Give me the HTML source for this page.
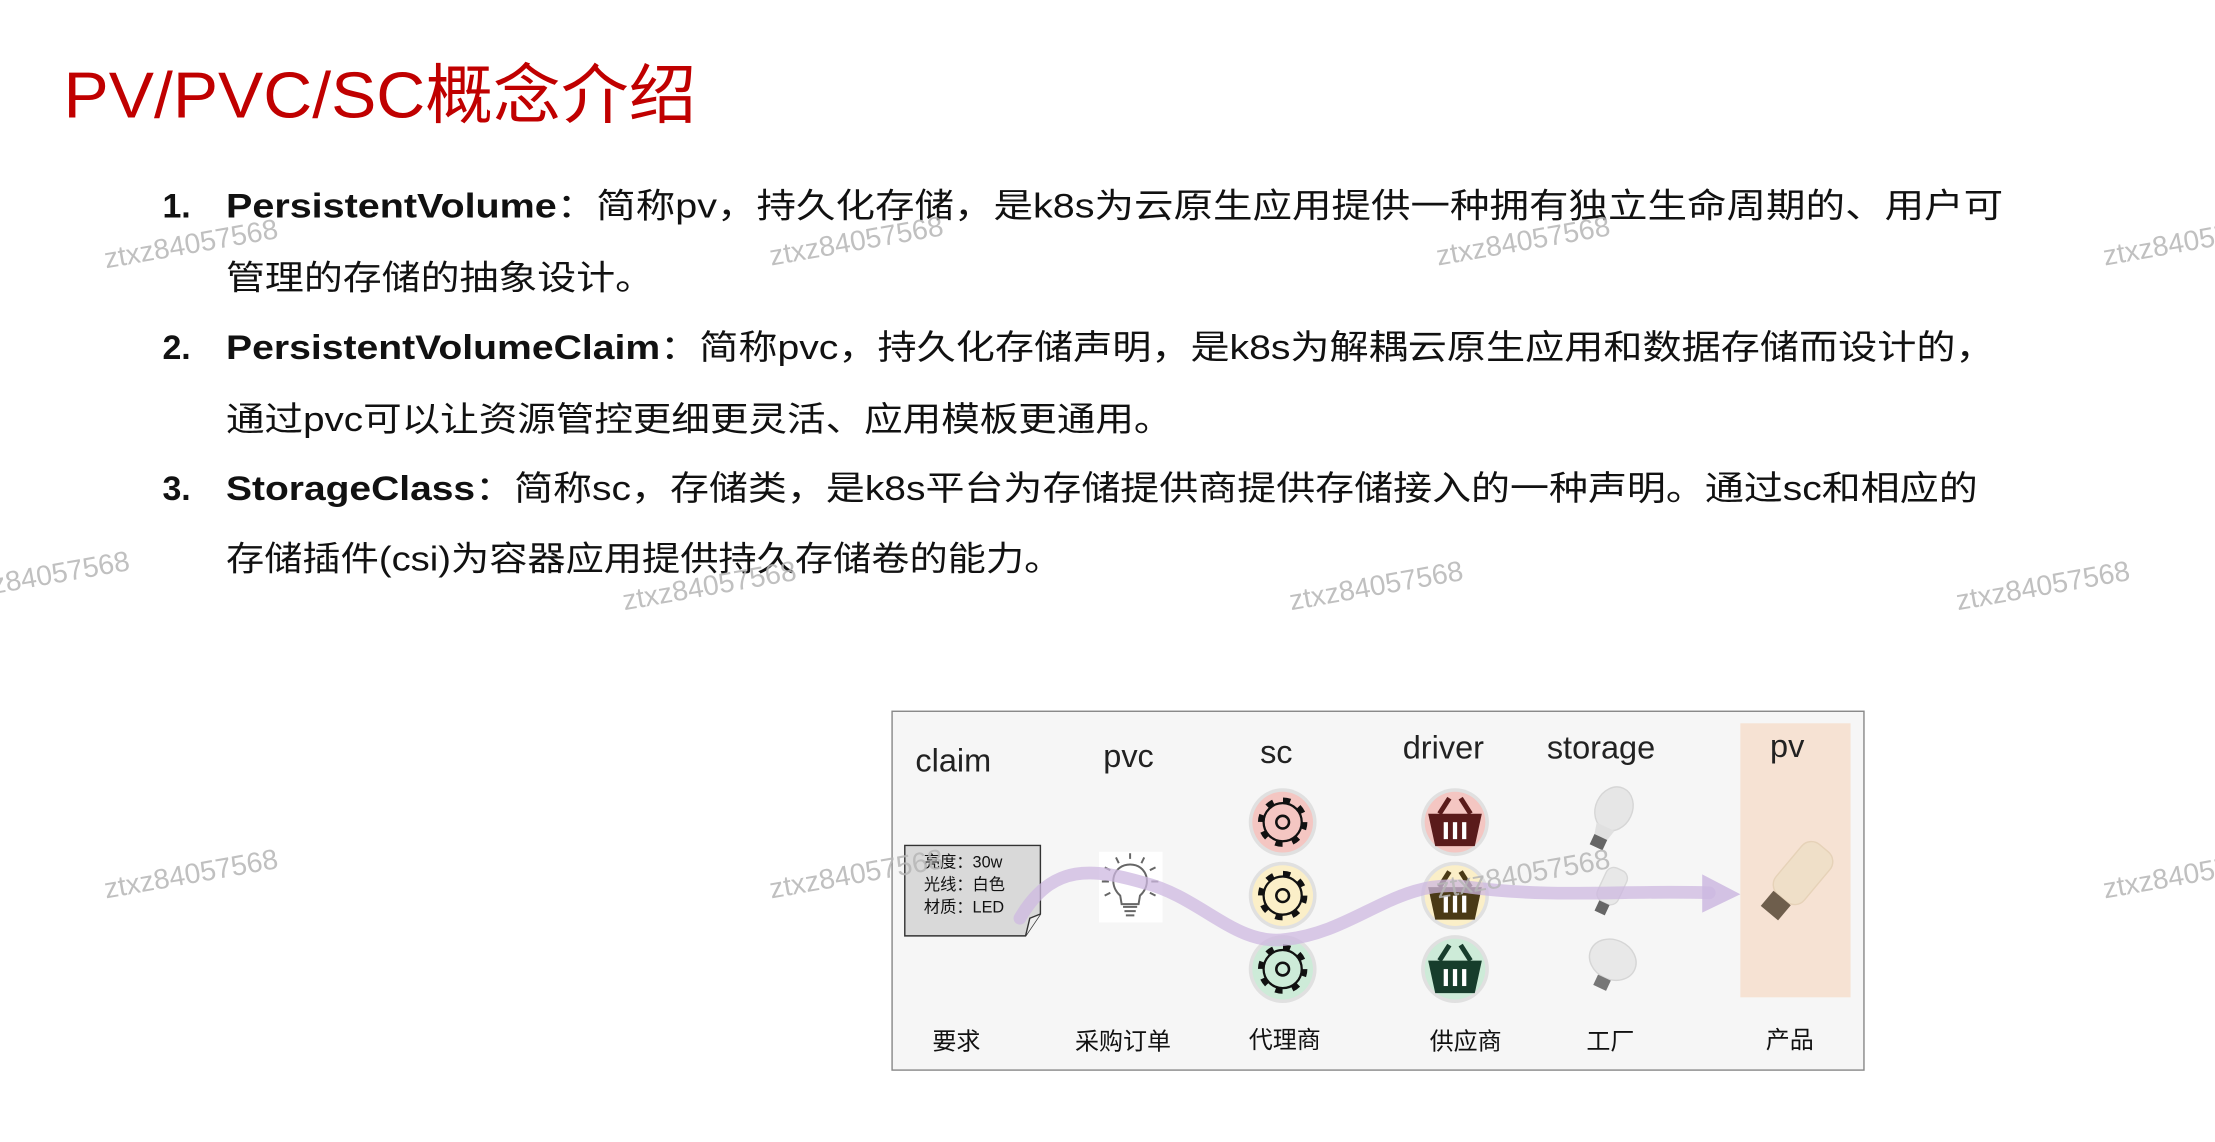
<!DOCTYPE html>
<html><head><meta charset="utf-8"><style>
html,body{margin:0;padding:0;background:#fff;}
svg{display:block;}
</style></head><body>
<svg width="2215" height="1142" viewBox="0 0 1568 808.4" xmlns="http://www.w3.org/2000/svg" font-family="'Liberation Sans','Noto Sans CJK SC',sans-serif">
<defs>
<g id="gear">
 <circle r="15" fill="none" stroke="#111" stroke-width="5" stroke-dasharray="5 6.8"/>
 <circle r="13.5" fill="currentColor"/>
 <circle r="13.5" fill="none" stroke="#111" stroke-width="1.6"/>
 <circle r="4.5" fill="none" stroke="#111" stroke-width="1.8"/>
</g>
<g id="basket">
 <path d="M-11,-6 L-4,-17 M11,-6 L4,-17" stroke="currentColor" stroke-width="3.5" fill="none"/>
 <path d="M-19,-6 H19 L14,17 H-14 Z" fill="currentColor"/>
 <rect x="-8" y="0" width="3" height="12" fill="#fff"/>
 <rect x="-1.5" y="0" width="3" height="12" fill="#fff"/>
 <rect x="5" y="0" width="3" height="12" fill="#fff"/>
</g>
</defs>

<!-- title -->
<text x="45" y="83" font-size="46" fill="#c00000" textLength="448" lengthAdjust="spacingAndGlyphs">PV/PVC/SC概念介绍</text>

<!-- list -->
<g font-size="24" fill="#111">
<text x="115" y="154" font-weight="bold">1.</text>
<text x="160" y="154" textLength="1258" lengthAdjust="spacingAndGlyphs"><tspan font-weight="bold">PersistentVolume</tspan>：简称pv，持久化存储，是k8s为云原生应用提供一种拥有独立生命周期的、用户可</text>
<text x="160" y="205" textLength="303" lengthAdjust="spacingAndGlyphs">管理的存储的抽象设计。</text>
<text x="115" y="254" font-weight="bold">2.</text>
<text x="160" y="254" textLength="1252" lengthAdjust="spacingAndGlyphs"><tspan font-weight="bold">PersistentVolumeClaim</tspan>：简称pvc，持久化存储声明，是k8s为解耦云原生应用和数据存储而设计的，</text>
<text x="160" y="305" textLength="670" lengthAdjust="spacingAndGlyphs">通过pvc可以让资源管控更细更灵活、应用模板更通用。</text>
<text x="115" y="354" font-weight="bold">3.</text>
<text x="160" y="354" textLength="1240" lengthAdjust="spacingAndGlyphs"><tspan font-weight="bold">StorageClass</tspan>：简称sc，存储类，是k8s平台为存储提供商提供存储接入的一种声明。通过sc和相应的</text>
<text x="160" y="404" textLength="592" lengthAdjust="spacingAndGlyphs">存储插件(csi)为容器应用提供持久存储卷的能力。</text>
</g>

<!-- diagram -->
<rect x="631.5" y="503.5" width="688" height="254" fill="#f6f6f6" stroke="#888" stroke-width="1"/>
<rect x="1232" y="512" width="78" height="194" fill="#f6e2d3"/>
<g font-size="23" fill="#222">
<text x="648" y="546">claim</text>
<text x="781" y="543">pvc</text>
<text x="892" y="540">sc</text>
<text x="993" y="537">driver</text>
<text x="1095" y="537">storage</text>
<text x="1253" y="536">pv</text>
</g>
<g font-size="17" fill="#111">
<text x="660" y="743">要求</text>
<text x="761" y="743">采购订单</text>
<text x="884" y="742">代理商</text>
<text x="1012" y="743">供应商</text>
<text x="1123" y="743">工厂</text>
<text x="1250" y="742">产品</text>
</g>

<!-- note -->
<path d="M640.5,598.5 H736.5 V647 L726,662.5 H640.5 Z" fill="#d9d9d9" stroke="#333" stroke-width="1"/>
<path d="M736.5,647 L729,650 L726,662.5" fill="#eee" stroke="#333" stroke-width="1"/>
<g font-size="11.5" fill="#111">
<text x="654" y="614">亮度：30w</text>
<text x="654" y="630">光线：白色</text>
<text x="654" y="646">材质：LED</text>
</g>

<!-- pvc bulb icon -->
<rect x="778" y="603" width="45" height="50" fill="#fff"/>
<g stroke="#666" stroke-width="1.4" fill="none">
<path d="M793,634 C784,626 788,612 800,612 C812,612 816,626 807,634 L806,640 H794 Z"/>
<path d="M795,642 H805 M796,645 H804 M797,648 H803"/>
<path d="M800,604 V608 M790,607 L792,611 M810,607 L808,611 M782,614 L786,616 M818,614 L814,616 M780,624 H785 M815,624 H820 M782,634 L786,632 M818,634 L814,632"/>
</g>

<!-- gears -->
<g transform="translate(908,582)"><circle r="24" fill="#e0e0e0"/><circle r="21.5" fill="#f4c6c2"/><g color="#f4c6c2"><use href="#gear"/></g></g>
<g transform="translate(908,634)"><circle r="24" fill="#e0e0e0"/><circle r="21.5" fill="#fbefc8"/><g color="#fbefc8"><use href="#gear"/></g></g>
<g transform="translate(908,686)"><circle r="24" fill="#e0e0e0"/><circle r="21.5" fill="#cdebd8"/><g color="#cdebd8"><use href="#gear"/></g></g>

<!-- baskets -->
<g transform="translate(1030,582)"><circle r="24" fill="#e0e0e0"/><circle r="21.5" fill="#f4c6c2"/><g color="#5a1b1b"><use href="#basket"/></g></g>
<g transform="translate(1030,634)"><circle r="24" fill="#e0e0e0"/><circle r="21.5" fill="#fbefc8"/><g color="#4a3a16"><use href="#basket"/></g></g>
<g transform="translate(1030,686)"><circle r="24" fill="#e0e0e0"/><circle r="21.5" fill="#cdebd8"/><g color="#173d2c"><use href="#basket"/></g></g>

<!-- storage bulbs -->
<g transform="translate(1140,578) rotate(25)">
 <ellipse cx="0" cy="-6" rx="13" ry="16" fill="#e6e6e6" stroke="#d6d6d6"/>
 <path d="M-7,8 L7,8 L5,16 L-5,16 Z" fill="#e0e0e0"/>
 <rect x="-5" y="16" width="10" height="8" fill="#666"/>
</g>
<g transform="translate(1140,630) rotate(25)">
 <rect x="-8" y="-16" width="16" height="26" rx="6" fill="#e8e8e8" stroke="#d8d8d8"/>
 <rect x="-4" y="10" width="8" height="8" fill="#666"/>
</g>
<g transform="translate(1140,683) rotate(25)">
 <ellipse cx="0" cy="-4" rx="17" ry="14" fill="#e8e8e8" stroke="#d6d6d6"/>
 <rect x="-5" y="10" width="10" height="8" fill="#777"/>
</g>

<!-- pv bulb -->
<g transform="translate(1268,628) rotate(40)">
<rect x="-13" y="-36" width="26" height="46" rx="9" fill="#efdfc8" stroke="#e6d2b8"/>
<rect x="-8" y="10" width="16" height="14" fill="#6e5e4c"/>
</g>

<!-- flow arrow -->
<path d="M722,650 C745,610 775,615 810,625 C850,635 875,670 910,665 C960,660 990,620 1040,628 C1100,636 1150,630 1210,632" fill="none" stroke="#cdb8e0" stroke-opacity="0.75" stroke-width="9" stroke-linecap="round"/>
<path d="M1205,619 L1232,633 L1205,646 Z" fill="#cdb8e0" fill-opacity="0.85"/>

<!-- watermarks -->
<g font-size="20" fill="#b5b5b5" fill-opacity="0.85">
<text transform="translate(75,190) rotate(-10)">ztxz84057568</text>
<text transform="translate(546,188) rotate(-10)">ztxz84057568</text>
<text transform="translate(1018,188) rotate(-10)">ztxz84057568</text>
<text transform="translate(1490,188) rotate(-10)">ztxz84057568</text>
<text transform="translate(-30,425) rotate(-10)">ztxz84057568</text>
<text transform="translate(442,432) rotate(-10)">ztxz84057568</text>
<text transform="translate(914,432) rotate(-10)">ztxz84057568</text>
<text transform="translate(1386,432) rotate(-10)">ztxz84057568</text>
<text transform="translate(75,636) rotate(-10)">ztxz84057568</text>
<text transform="translate(546,636) rotate(-10)">ztxz84057568</text>
<text transform="translate(1018,636) rotate(-10)">ztxz84057568</text>
<text transform="translate(1490,636) rotate(-10)">ztxz84057568</text>
</g>
</svg>
</body></html>
